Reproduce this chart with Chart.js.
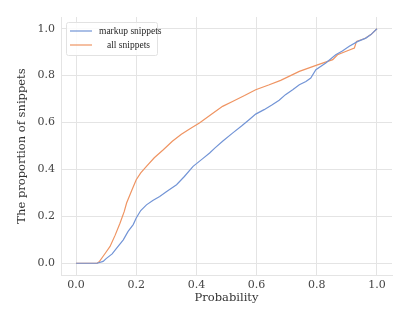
<!DOCTYPE html>
<html>
<head>
<meta charset="utf-8">
<script src="https://cdn.jsdelivr.net/npm/chart.js@4.4.0/dist/chart.umd.min.js"></script>
<style>
  html, body { margin: 0; padding: 0; background: #ffffff; }
  #wrap { width: 419px; height: 321px; }
</style>
</head>
<body>
<div id="wrap"><canvas id="myChart" width="419" height="321"></canvas></div>
<script>
// markup snippets (blue)
const markupX = [0, 0.07, 0.09, 0.10, 0.12, 0.135, 0.157, 0.173, 0.19, 0.2, 0.215, 0.234, 0.255, 0.278, 0.3, 0.334, 0.36, 0.389, 0.42, 0.444, 0.461, 0.487, 0.52, 0.55, 0.575, 0.597, 0.625, 0.652, 0.675, 0.696, 0.72, 0.742, 0.764, 0.78, 0.797, 0.83, 0.863, 0.885, 0.908, 0.935, 0.963, 0.98, 1.0];
const markupY = [0, 0, 0.008, 0.02, 0.04, 0.065, 0.1, 0.136, 0.165, 0.193, 0.225, 0.249, 0.268, 0.285, 0.305, 0.335, 0.37, 0.413, 0.445, 0.47, 0.491, 0.52, 0.555, 0.585, 0.612, 0.636, 0.655, 0.676, 0.695, 0.719, 0.74, 0.761, 0.775, 0.79, 0.825, 0.854, 0.889, 0.905, 0.925, 0.945, 0.96, 0.975, 1.0];

// all snippets (orange)
const allX = [0, 0.07, 0.078, 0.09, 0.1, 0.113, 0.13, 0.146, 0.16, 0.168, 0.185, 0.2, 0.215, 0.234, 0.26, 0.29, 0.32, 0.35, 0.38, 0.41, 0.45, 0.487, 0.52, 0.56, 0.597, 0.64, 0.68, 0.742, 0.8, 0.853, 0.869, 0.9, 0.925, 0.932, 0.96, 0.98, 1.0];
const allY = [0, 0, 0.008, 0.03, 0.048, 0.072, 0.12, 0.171, 0.22, 0.257, 0.31, 0.356, 0.385, 0.413, 0.45, 0.484, 0.52, 0.55, 0.575, 0.598, 0.635, 0.669, 0.69, 0.715, 0.74, 0.76, 0.78, 0.818, 0.845, 0.868, 0.889, 0.905, 0.918, 0.946, 0.958, 0.975, 1.0];

const seriesNames = ['markup snippets', 'all snippets'];
const seriesColors = ['#7294d6', '#ef9462'];
const tickValues = [0, 0.2, 0.4, 0.6, 0.8, 1.0];

const serif = "'DejaVu Serif', serif";
const gridColor = '#e4e4e4';

function toPoints(xs, ys) {
    return xs.map((x, i) => ({x: x, y: ys[i]}));
}

// legend drawn inside the plot, top-left
const innerLegend = {
    id: 'innerLegend',
    afterDraw(chart) {
        const c = chart.ctx;
        const a = chart.chartArea;
        const bx = a.left + 5, by = a.top + 5, bw = 91, bh = 33;
        c.save();
        c.fillStyle = 'rgba(255,255,255,0.85)';
        c.strokeStyle = '#e2e2e2';
        c.lineWidth = 1;
        c.beginPath();
        c.roundRect(bx + 0.5, by + 0.5, bw, bh, 2);
        c.fill();
        c.stroke();
        c.font = "9.5px 'Liberation Serif', serif";
        c.textBaseline = 'middle';
        const rows = [by + 9, by + 23];
        const textX = [bx + 33, bx + 41];
        for (let i = 0; i < seriesNames.length; i++) {
            c.strokeStyle = seriesColors[i];
            c.lineWidth = 1.2;
            c.beginPath();
            c.moveTo(bx + 4, rows[i]);
            c.lineTo(bx + 26, rows[i]);
            c.stroke();
            c.fillStyle = '#262626';
            c.fillText(seriesNames[i], textX[i], rows[i]);
        }
        c.restore();
    }
};

const ctx = document.getElementById('myChart').getContext('2d');

const myChart = new Chart(ctx, {
    type: 'line',
    data: {
        datasets: [{
            label: seriesNames[0],
            data: toPoints(markupX, markupY),
            borderColor: seriesColors[0],
            borderWidth: 1.2,
            pointRadius: 0,
            tension: 0,
            fill: false
        }, {
            label: seriesNames[1],
            data: toPoints(allX, allY),
            borderColor: seriesColors[1],
            borderWidth: 1.2,
            pointRadius: 0,
            tension: 0,
            fill: false
        }]
    },
    options: {
        responsive: false,
        animation: false,
        layout: { padding: { top: 17, right: 27, left: 0, bottom: 0 } },
        plugins: {
            legend: { display: false },
            tooltip: { enabled: false }
        },
        scales: {
            x: {
                type: 'linear',
                min: -0.05,
                max: 1.05,
                afterBuildTicks: (s) => { s.ticks = tickValues.map(v => ({value: v})); },
                afterFit: (s) => { s.height = 46; },
                border: { color: gridColor },
                grid: { color: gridColor, drawTicks: false },
                ticks: {
                    padding: 4,
                    color: '#444444',
                    font: { family: serif, size: 11 },
                    callback: (v) => v.toFixed(1),
                    maxRotation: 0
                },
                title: {
                    display: true,
                    text: 'Probability',
                    color: '#333333',
                    font: { family: serif, size: 11.5 },
                    padding: { top: 16, bottom: 16 }
                }
            },
            y: {
                type: 'linear',
                min: -0.05,
                max: 1.05,
                afterBuildTicks: (s) => { s.ticks = tickValues.map(v => ({value: v})); },
                afterFit: (s) => { s.width = 61; },
                border: { color: gridColor },
                grid: { color: gridColor, drawTicks: false },
                ticks: {
                    padding: 6,
                    color: '#444444',
                    font: { family: serif, size: 11 },
                    callback: (v) => v.toFixed(1)
                },
                title: {
                    display: true,
                    text: 'The proportion of snippets',
                    color: '#333333',
                    font: { family: serif, size: 11.5 },
                    padding: { top: 15, bottom: 15 }
                }
            }
        }
    },
    plugins: [innerLegend]
});
</script>
</body>
</html>
